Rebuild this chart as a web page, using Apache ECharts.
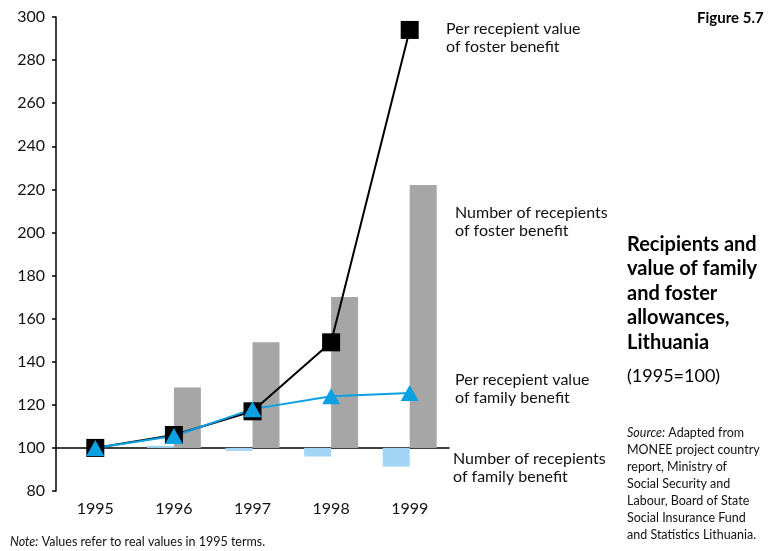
<!DOCTYPE html>
<html>
<head>
<meta charset="utf-8">
<script src="https://cdn.jsdelivr.net/npm/echarts@6/dist/echarts.min.js"></script>
<style>
  html, body { margin: 0; padding: 0; background: #fff; }
  #chart { width: 776px; height: 551px; }
</style>
</head>
<body>
<div id="chart"></div>
<script>
// 1995 = 100
const years = ["1995", "1996", "1997", "1998", "1999"];
const familyRecipients = [100, 101, 98.6, 96, 91.3];
const fosterRecipients = [100, 128, 149, 170, 222];
const fosterValue = [100, 106, 117, 149, 294];
const familyValue = [100, 105.5, 118, 124, 125.5];
const yTicks = [80, 100, 120, 140, 160, 180, 200, 220, 240, 260, 280, 300];

const BASE = 100;
// bars grow from the 100 line, so plot everything relative to it
const rel = (arr) => arr.map((v) => +(v - BASE).toFixed(2));

const font = "Lato";
const black = "#000";
const blue = "#0aa0e2";

let myChart = echarts.init(document.getElementById("chart"));

function note(x, y, lines, style) {
  return {
    type: "text",
    left: x,
    top: y,
    style: Object.assign(
      {
        text: lines.join("\n"),
        fill: "#111",
        font: "16px " + font,
        lineHeight: 18,
      },
      style || {}
    ),
  };
}

myChart.setOption({
  animation: false,
  grid: {
    left: 56,
    right: 327,
    top: 17,
    bottom: 60,
    outerBoundsMode: "none",
  },
  xAxis: {
    type: "category",
    data: years,
    axisLine: {
      onZero: true,
      lineStyle: { color: black, width: 1.5 },
    },
    axisTick: {
      length: 5,
      lineStyle: { color: black, width: 1.5 },
    },
    axisLabel: {
      margin: 10,
      color: "#111",
      fontFamily: font,
      fontSize: 16,
    },
  },
  yAxis: {
    type: "value",
    min: yTicks[0] - BASE,
    max: yTicks[yTicks.length - 1] - BASE,
    interval: 20,
    splitLine: { show: false },
    axisLine: {
      show: true,
      lineStyle: { color: black, width: 1.5 },
    },
    axisTick: {
      show: true,
      length: 4,
      lineStyle: { color: black, width: 1.5 },
    },
    axisLabel: {
      margin: 11,
      color: "#111",
      fontFamily: font,
      fontSize: 16,
      formatter: (v) => String(v + BASE),
    },
  },
  series: [
    {
      name: "Number of recepients of family benefit",
      type: "bar",
      data: rel(familyRecipients),
      barWidth: 27,
      barGap: "0%",
      itemStyle: { color: "#a3d5f5" },
    },
    {
      name: "Number of recepients of foster benefit",
      type: "bar",
      data: rel(fosterRecipients),
      barWidth: 27,
      barGap: "0%",
      itemStyle: { color: "#a6a6a6" },
    },
    {
      name: "Per recepient value of foster benefit",
      type: "line",
      data: rel(fosterValue),
      symbol: "rect",
      symbolSize: 18,
      lineStyle: { color: black, width: 2 },
      itemStyle: { color: black },
    },
    {
      name: "Per recepient value of family benefit",
      type: "line",
      data: rel(familyValue),
      symbol: "triangle",
      symbolSize: [18, 16],
      lineStyle: { color: blue, width: 2 },
      itemStyle: { color: blue },
    },
  ],
  graphic: [
    note(446, 20, ["Per recepient value", "of foster benefit"]),
    note(455, 204, ["Number of recepients", "of foster benefit"]),
    note(455, 371, ["Per recepient value", "of family benefit"]),
    note(453, 450, ["Number of recepients", "of family benefit"]),
    note(697, 9, ["Figure 5.7"], { font: "bold 15px " + font, fill: "#000" }),
    note(
      627,
      232,
      ["Recipients and", "value of family", "and foster", "allowances,", "Lithuania"],
      { font: "bold 20px " + font, fill: "#000", lineHeight: 24.5 }
    ),
    note(627, 367, ["(1995=100)"], { font: "18px " + font, fill: "#000" }),
    {
      type: "text",
      left: 627,
      top: 424,
      style: {
        text: "{i|Source:} Adapted from\nMONEE project country\nreport, Ministry of\nSocial Security and\nLabour, Board of State\nSocial Insurance Fund\nand Statistics Lithuania.",
        fill: "#111",
        font: "12.5px " + font,
        lineHeight: 17,
        rich: {
          i: { fontStyle: "italic", fontFamily: font, fontSize: 12.5, fill: "#111" },
        },
      },
    },
    {
      type: "text",
      left: 10,
      top: 535,
      style: {
        text: "{i|Note:} Values refer to real values in 1995 terms.",
        fill: "#111",
        font: "12.5px " + font,
        rich: {
          i: { fontStyle: "italic", fontFamily: font, fontSize: 12.5, fill: "#111" },
        },
      },
    },
  ],
});
</script>
</body>
</html>
